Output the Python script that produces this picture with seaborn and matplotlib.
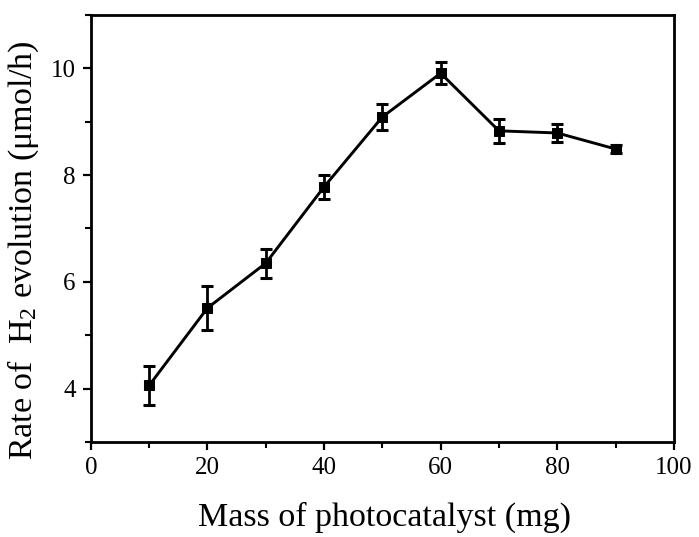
import numpy as np
import pandas as pd
import matplotlib
matplotlib.use('Agg')
import matplotlib.pyplot as plt
import seaborn as sns
from matplotlib.ticker import MultipleLocator

# data
mass = [10, 20, 30, 40, 50, 60, 70, 80, 90]
rate = [4.06, 5.51, 6.35, 7.78, 9.09, 9.91, 8.83, 8.79, 8.49]
err = [0.37, 0.41, 0.27, 0.22, 0.25, 0.21, 0.23, 0.16, 0.07]

df = pd.DataFrame({'mass': mass, 'rate': rate, 'err': err})

sns.set_style('ticks')
plt.rcParams['font.family'] = ['Liberation Serif', 'DejaVu Serif']
plt.rcParams['mathtext.fontset'] = 'custom'
plt.rcParams['mathtext.rm'] = 'Liberation Serif'
plt.rcParams['mathtext.it'] = 'Liberation Serif:italic'
plt.rcParams['text.color'] = 'black'
plt.rcParams['axes.labelcolor'] = 'black'

fig = plt.figure(figsize=(6.99, 5.37), dpi=100)
ax = fig.add_axes([0.130, 0.177, 0.834, 0.795])

sns.lineplot(data=df, x='mass', y='rate', color='black', linewidth=2.1,
             marker='s', markersize=6.5, markeredgecolor='black', ax=ax)
ax.errorbar(df['mass'], df['rate'], yerr=df['err'], fmt='none',
            ecolor='black', elinewidth=2.0, capsize=4, capthick=2.2)

ax.set_xlim(0, 100)
ax.set_ylim(3, 11)
ax.xaxis.set_major_locator(MultipleLocator(20))
ax.xaxis.set_minor_locator(MultipleLocator(10))
ax.yaxis.set_minor_locator(MultipleLocator(1))
ax.set_yticks([4, 6, 8, 10])
ax.tick_params(which='major', direction='out', length=6, width=1.6, pad=5,
               labelsize=18, colors='black')
ax.tick_params(which='minor', direction='out', length=4, width=1.5, colors='black')

for s in ax.spines.values():
    s.set_linewidth(2.0)
    s.set_color('black')

ax.set_xlabel('Mass of photocatalyst (mg)', fontsize=24.5)
ax.set_ylabel('Rate of  H$_{\\mathrm{2}}$ evolution (μmol/h)', fontsize=24.5)
ax.xaxis.set_label_coords(0.504, -0.14)
ax.yaxis.set_label_coords(-0.086, 0.45)

fig.savefig('out.png', dpi=100)
